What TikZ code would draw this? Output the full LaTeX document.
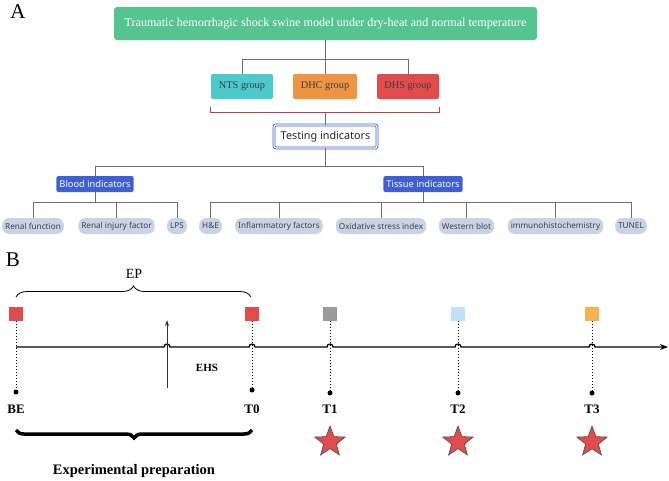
\documentclass[tikz,border=0pt]{standalone}
\usepackage{fontspec}
\setmainfont{Liberation Serif}
\newfontfamily\uifont{Noto Sans}
\usetikzlibrary{shapes.geometric,decorations.pathreplacing,arrows.meta}
\definecolor{topgreen}{HTML}{55C48F}
\definecolor{ntscyan}{HTML}{4CC9CB}
\definecolor{dhcorange}{HTML}{EE9442}
\definecolor{dhsred}{HTML}{E24B4B}
\definecolor{catblue}{HTML}{3F5FD8}
\definecolor{leafgray}{HTML}{CAD3E4}
\definecolor{leaftext}{HTML}{3C4452}
\definecolor{linegray}{HTML}{6E6E6E}
\definecolor{sqgray}{HTML}{9A9A9A}
\definecolor{sqblue}{HTML}{BFE1F7}
\definecolor{sqorange}{HTML}{F8B24C}

\begin{document}
\begin{tikzpicture}[x=1pt,y=-1pt,
  group/.style={rounded corners=2pt,minimum height=25pt,inner sep=0pt,text=black!75,font=\fontsize{10.3}{12}\selectfont},
  cat/.style={fill=catblue,text=white,rounded corners=2pt,minimum height=16pt,inner xsep=3pt,inner ysep=0pt,font=\uifont\fontsize{9.3}{10}\selectfont},
  leaf/.style={fill=leafgray,text=leaftext,rounded corners=7pt,minimum height=16pt,inner xsep=3pt,inner ysep=0pt,font=\uifont\fontsize{8.2}{9}\selectfont},
  link/.style={draw=linegray,line width=0.8pt},
  sqbox/.style={minimum size=14pt,inner sep=0pt},
  dot/.style={circle,fill=black,inner sep=0pt,minimum size=5pt},
  tlabel/.style={font=\bfseries\fontsize{13}{15}\selectfont},
  redstar/.style={star,star points=5,star point ratio=2.4,minimum size=32pt,inner sep=0pt,fill=dhsred,draw=black!70,line width=0.6pt}
]
\useasboundingbox (0,0) rectangle (669,480);

% part A
\node[font=\fontsize{21}{24}\selectfont] (lblA) at (18,12) {A};
\node[fill=topgreen,text=white,rounded corners=3pt,minimum width=423pt,minimum height=33pt,font=\fontsize{12.1}{14}\selectfont] (model) at (325.5,23.5) {Traumatic hemorrhagic shock swine model under dry-heat and normal temperature};

\node[group,fill=ntscyan,minimum width=62pt] (nts) at (242,86.5) {NTS group};
\node[group,fill=dhcorange,minimum width=64pt] (dhc) at (325,86.5) {DHC group};
\node[group,fill=dhsred,minimum width=62pt] (dhs) at (408,86.5) {DHS group};
\foreach \g in {nts,dhc,dhs}
  \draw[link] (model.south) -- ++(0,19) -| (\g.north);

\node[draw=catblue,double=white,double distance=1.2pt,line width=0.8pt,fill=white,rounded corners=2pt,minimum width=103pt,minimum height=23pt,font=\uifont\fontsize{10.8}{12}\selectfont,text=black!85] (testing) at (325.5,136.5) {Testing indicators};
\draw[dhsred!85!black,line width=0.8pt] (nts.west |- 0,107) -- (nts.west |- 0,112) -- (dhs.east |- 0,112) -- (dhs.east |- 0,107);
\draw[link] (testing.north |- 0,112) -- (testing.north);

\node[cat] (blood) at (95,184) {Blood indicators};
\node[cat] (tissue) at (423,184) {Tissue indicators};
\draw[link] (testing.south) -- ++(0,18) -| (blood.north);
\draw[link] (testing.south) -- ++(0,18) -| (tissue.north);

\node[leaf] (rf) at (33,226) {Renal function};
\node[leaf] (rif) at (116.5,226) {Renal injury factor};
\node[leaf] (lps) at (177,226) {LPS};
\node[leaf] (he) at (210.5,226) {H\&E};
\node[leaf] (inf) at (279,226) {Inflammatory factors};
\node[leaf] (ox) at (381,226) {Oxidative stress index};
\node[leaf] (wb) at (466.5,226) {Western blot};
\node[leaf] (ihc) at (555.5,226) {immunohistochemistry};
\node[leaf] (tunel) at (631,226) {TUNEL};
\foreach \l in {rf,rif,lps}
  \draw[link] (blood.south) -- ++(0,10) -| (\l.north);
\foreach \l in {he,inf,ox,wb,ihc,tunel}
  \draw[link] (tissue.south) -- ++(0,10) -| (\l.north);

% part B
\node[font=\fontsize{21}{24}\selectfont] (lblB) at (13,260) {B};

\coordinate (start) at (16,347);
\coordinate (stop) at (668,347);
\draw[line width=1.3pt,-{Stealth[length=8pt,width=6pt]}] (start)
  \foreach \x in {167,252,330,458,592} { -- (\x-3,347) arc[start angle=180,end angle=360,radius=3] } -- (stop);

\node[sqbox,fill=dhsred] (sqbe) at (16,314) {};
\node[sqbox,fill=dhsred] (sqt0) at (252,314) {};
\node[sqbox,fill=sqgray] (sqt1) at (330,314) {};
\node[sqbox,fill=sqblue] (sqt2) at (458,314) {};
\node[sqbox,fill=sqorange] (sqt3) at (592,314) {};

\node[dot] (dbe) at (16,392) {};
\node[dot] (dt0) at (252,390) {};
\node[dot] (dt1) at (330,393) {};
\node[dot] (dt2) at (458,393) {};
\node[dot] (dt3) at (592,393) {};
\foreach \p in {be,t0,t1,t2,t3}
  \draw[dotted,line width=1pt] (sq\p.south) -- (d\p);

\node[tlabel] (be) at (16,409) {BE};
\node[tlabel] (t0) at (252,409) {T0};
\node[tlabel] (t1) at (330,409) {T1};
\node[tlabel] (t2) at (458,409) {T2};
\node[tlabel] (t3) at (592,409) {T3};

\coordinate (ehsfoot) at (167,388);
\coordinate (ehshead) at (167,320);
\draw[line width=0.8pt,black!80,-{Stealth[length=6pt,width=4pt]}] (ehsfoot) -- (ehshead);
\node[font=\bfseries\fontsize{11}{13}\selectfont] (ehs) at (207,368) {EHS};

\draw[line width=0.8pt,decorate,decoration={brace,amplitude=11pt}] (16,297) -- (251,297);
\node[font=\fontsize{14}{16}\selectfont] (ep) at (134,274) {EP};

\draw[line width=3.5pt,decorate,decoration={brace,amplitude=8pt}] (252,430) -- (16,430);
\node[font=\bfseries\fontsize{14.5}{16}\selectfont] (prep) at (134,471) {Experimental preparation};

\node[redstar] (s1) at (330,442) {};
\node[redstar] (s2) at (458,442) {};
\node[redstar] (s3) at (592,442) {};
\end{tikzpicture}
\end{document}
